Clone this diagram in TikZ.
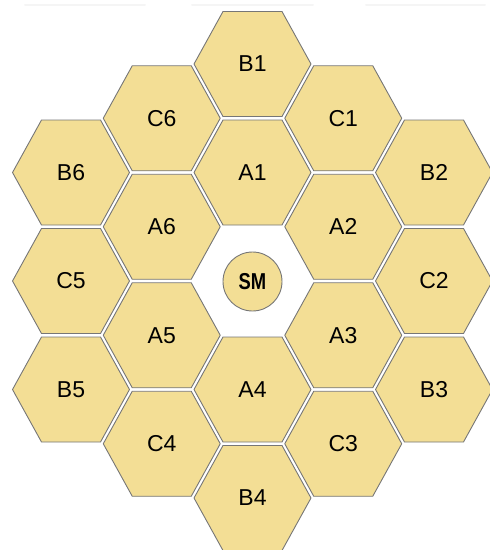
\documentclass[tikz,border=0pt]{standalone}
\usepackage{fontspec}
\setmainfont{Liberation Sans}
\definecolor{hexyellow}{HTML}{F3DE95}
\definecolor{hexedge}{HTML}{767676}
\tikzset{
  hexcell/.style={fill=hexyellow, draw=hexedge, line width=0.9pt, line join=round},
  hexlabel/.style={inner sep=0pt, font=\fontsize{23}{23}\selectfont, text=black},
  smcell/.style={circle, fill=hexyellow, draw=hexedge, line width=0.9pt, minimum size=59pt, inner sep=0pt, font=\fontsize{23}{23}\selectfont\bfseries},
  topshade/.style={draw=black!4, line width=2pt, line cap=round}
}
\newcommand\hexcellat[3]{%
  \draw[hexcell, shift={(#2,#3)}] (-58.5,0) -- (-29.5,-52.5) -- (29.5,-52.5) -- (58.5,0) -- (29.5,52.5) -- (-29.5,52.5) -- cycle;
  \node[hexlabel] (#1) at (#2,#3) {#1};
}
\begin{document}
\begin{tikzpicture}[x=1pt,y=-1pt]
\useasboundingbox (0,0) rectangle (490,550);
% faint strips at the top
\coordinate (t1a) at (25,5); \coordinate (t1b) at (145,5);
\coordinate (t2a) at (192,5); \coordinate (t2b) at (313,5);
\coordinate (t3a) at (366,5); \coordinate (t3b) at (485,5);
\draw[topshade] (t1a) -- (t1b);
\draw[topshade] (t2a) -- (t2b);
\draw[topshade] (t3a) -- (t3b);
% column 3
\hexcellat{B1}{252.5}{64}
\hexcellat{A1}{252.5}{172.5}
\hexcellat{A4}{252.5}{389.5}
\hexcellat{B4}{252.5}{498}
% column 2
\hexcellat{C6}{161.75}{118.25}
\hexcellat{A6}{161.75}{226.75}
\hexcellat{A5}{161.75}{335.25}
\hexcellat{C4}{161.75}{443.75}
% column 4
\hexcellat{C1}{343.25}{118.25}
\hexcellat{A2}{343.25}{226.75}
\hexcellat{A3}{343.25}{335.25}
\hexcellat{C3}{343.25}{443.75}
% column 1
\hexcellat{B6}{71}{172.5}
\hexcellat{C5}{71}{281}
\hexcellat{B5}{71}{389.5}
% column 5
\hexcellat{B2}{434}{172.5}
\hexcellat{C2}{434}{281}
\hexcellat{B3}{434}{389.5}
% secondary mirror
\node[smcell] (SM) at (252.5,281.5) {\scalebox{0.8}[1]{SM}};
\end{tikzpicture}
\end{document}
